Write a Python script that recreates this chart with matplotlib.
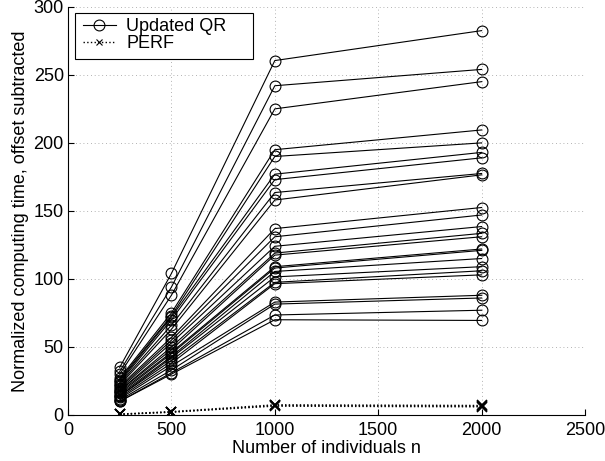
import matplotlib
matplotlib.use("Agg")
import matplotlib.pyplot as plt
from matplotlib.ticker import MultipleLocator
from matplotlib.patches import Rectangle

plt.rcParams['font.family'] = ['Liberation Sans', 'DejaVu Sans']

n_values = [250, 500, 1000, 2000]

qr_250 = [35, 32, 30, 27, 26, 25, 24, 23, 22, 21, 20, 19, 18, 18, 17, 16, 15, 14, 14, 13, 12, 11, 10, 10]
qr_500 = [104, 94, 88, 75, 73, 72, 70, 66, 63, 57, 55, 53, 50, 48, 46, 45, 43, 42, 40, 38, 36, 33, 31, 30]
qr_1000 = [260.5, 242, 225, 195, 190, 177, 173, 163.5, 158, 137, 131, 124, 119, 117.5, 109, 108, 105.5, 101.5, 97.5, 96.5, 83, 81.5, 73.5, 70]
qr_2000 = [282.5, 254, 245, 209.5, 200, 193, 189, 177.5, 176.5, 152.5, 147, 138.5, 133.5, 131, 122, 121, 115, 109, 106, 103, 88, 86, 77, 69.5]

perf_series = [
    [0.5, 2.0, 7.0, 6.5],
    [0.7, 2.5, 7.5, 7.0],
    [0.4, 2.2, 6.5, 6.0],
]

W, H = 605, 461
fig = plt.figure(figsize=(W / 100, H / 100), dpi=100)
ax = fig.add_axes([0.1124, 0.0998, 0.8546, 0.8854])

for i in range(len(qr_250)):
    ys = [qr_250[i], qr_500[i], qr_1000[i], qr_2000[i]]
    ax.plot(n_values, ys, '-', color='black', lw=0.8, marker='o', ms=7.8,
            mfc='none', mec='black', mew=0.8,
            label='Updated QR' if i == 0 else None)

for i, ys in enumerate(perf_series):
    ax.plot(n_values, ys, ':', color='black', lw=1.0, marker='x', ms=7,
            mew=1.2, label='PERF' if i == 0 else None)

ax.set_xlim(0, 2500)
ax.set_ylim(0, 300)
ax.xaxis.set_major_locator(MultipleLocator(500))
ax.yaxis.set_major_locator(MultipleLocator(50))
ax.grid(True, linestyle=(0, (1, 3.5)), color='#999999', lw=0.6)
ax.spines['top'].set_visible(False)
ax.spines['right'].set_visible(False)
ax.tick_params(direction='in', labelsize=13, length=4)
ax.tick_params(axis='x', pad=5)
ax.tick_params(axis='y', pad=3)
ax.set_xlabel('Number of individuals n', fontsize=13, labelpad=1)
ax.set_ylabel('Normalized computing time, offset subtracted', fontsize=13, labelpad=3)

handles, labels = ax.get_legend_handles_labels()
leg = fig.legend(handles, labels, loc='upper left',
                 bbox_to_anchor=(83 / W, 1 - 18 / H), bbox_transform=fig.transFigure,
                 fontsize=13, frameon=False, borderpad=0, borderaxespad=0,
                 handlelength=1.8, handletextpad=0.6, labelspacing=0.0)
leg.legend_handles[1].set_markersize(5)
leg.legend_handles[1].set_markeredgewidth(0.8)
fig.add_artist(Rectangle((75 / W, 1 - 59 / H), 178 / W, 46 / H,
                         transform=fig.transFigure, fill=True, facecolor='white',
                         edgecolor='black', lw=0.8, zorder=leg.get_zorder() - 0.5))

fig.savefig('out.png', dpi=100)
